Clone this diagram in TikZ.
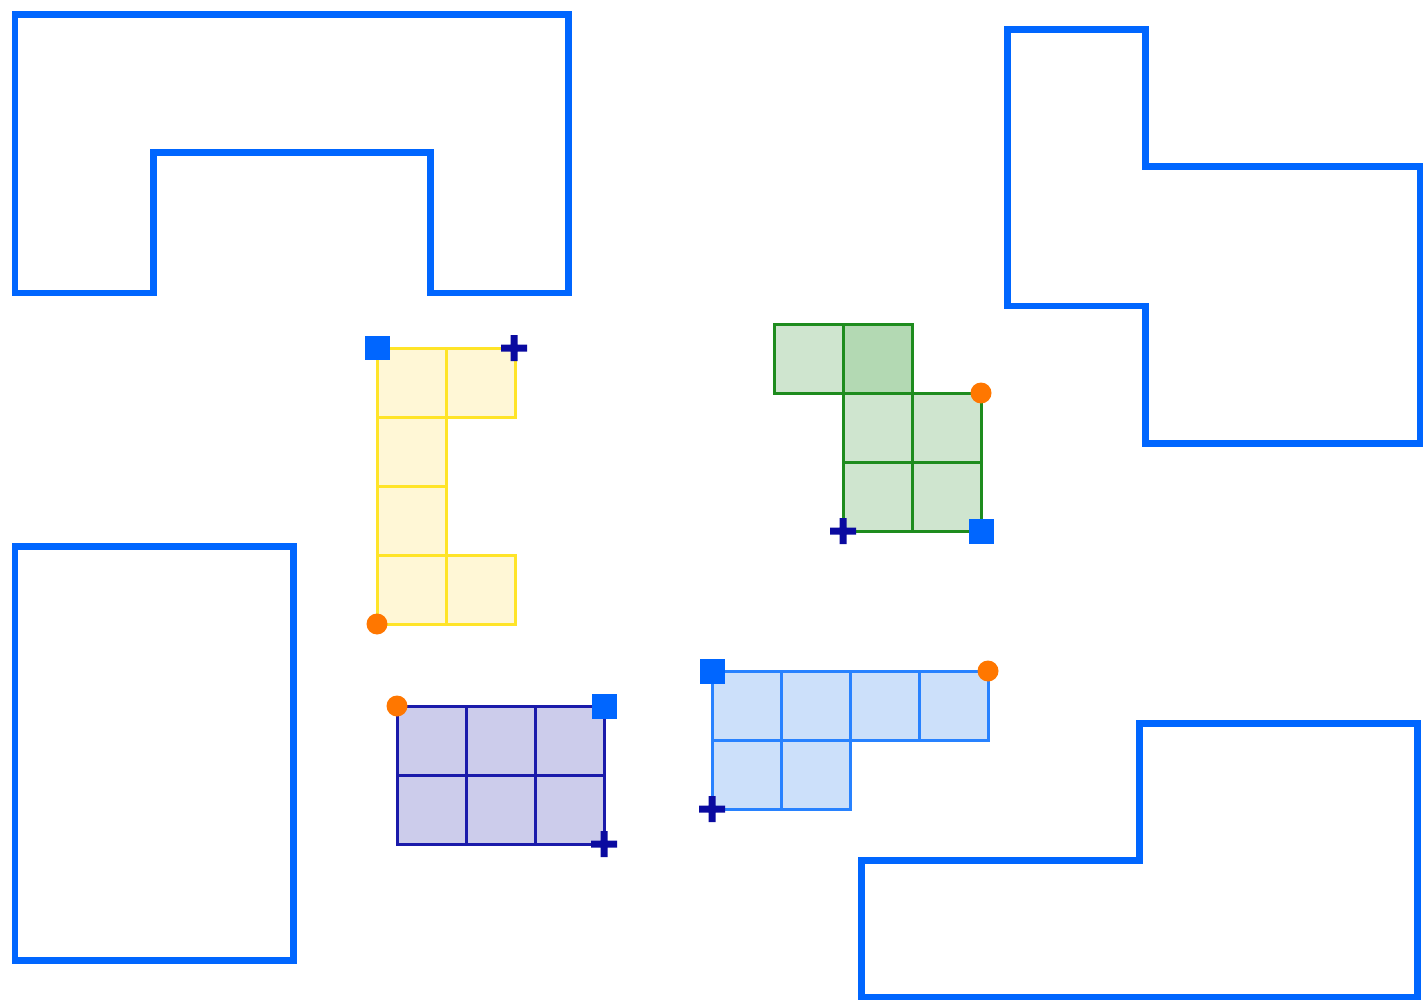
\documentclass[tikz,border=0pt]{standalone}
\usepackage{tikz}
\usetikzlibrary{positioning}

\definecolor{frameblue}{RGB}{0,102,255}
\definecolor{marknavy}{RGB}{10,10,160}
\definecolor{markorange}{RGB}{255,119,0}
\definecolor{yelline}{RGB}{255,228,40}
\definecolor{yelfill}{RGB}{255,247,214}
\definecolor{grnline}{RGB}{30,140,30}
\definecolor{grnfill}{RGB}{207,229,207}
\definecolor{grndark}{RGB}{179,217,179}
\definecolor{purline}{RGB}{26,26,170}
\definecolor{purfill}{RGB}{204,204,235}
\definecolor{bluline}{RGB}{40,130,255}
\definecolor{blufill}{RGB}{204,224,250}

\begin{document}
\begin{tikzpicture}[
  x=0.02cm, y=-0.02cm,
  frame/.style={draw=frameblue, line width=0.14cm, line join=miter},
  yelcell/.style={draw=yelline, fill=yelfill, line width=0.06cm},
  grncell/.style={draw=grnline, fill=grnfill, line width=0.06cm},
  purcell/.style={draw=purline, fill=purfill, line width=0.06cm},
  blucell/.style={draw=bluline, fill=blufill, line width=0.06cm},
  sqmark/.style={rectangle, fill=frameblue, minimum size=0.5cm, inner sep=0pt},
  dotmark/.style={circle, fill=markorange, minimum size=0.42cm, inner sep=0pt},
  plusmark/.pic={\fill[marknavy] (-13,-3.5) rectangle (13,3.5) (-3.5,-13) rectangle (3.5,13);}
]
\useasboundingbox (0,0) rectangle (1423,1000);

% Frames
\draw[frame] (15,15) -- (568,15) -- (568,293) -- (430,293) -- (430,153) -- (153,153) -- (153,293) -- (15,293) -- cycle;
\draw[frame] (1007,30) -- (1145,30) -- (1145,167) -- (1420,167) -- (1420,443) -- (1145,443) -- (1145,306) -- (1007,306) -- cycle;
\draw[frame] (15,546) rectangle (293,960);
\draw[frame] (861,860) -- (1139,860) -- (1139,723) -- (1417,723) -- (1417,997) -- (861,997) -- cycle;

% Yellow piece
\foreach \cx/\cy in {377/348, 446/348, 377/417, 377/486, 377/555, 446/555}
  \draw[yelcell] (\cx,\cy) rectangle ++(69,69);
\node[sqmark] (yelSq) at (377,348) {};
\pic (yelPlus) at (514,348) {plusmark};
\node[dotmark] (yelDot) at (377,624) {};

% Green piece
\foreach \cx/\cy in {774/324, 843/393, 912/393, 843/462, 912/462}
  \draw[grncell] (\cx,\cy) rectangle ++(69,69);
\draw[grncell, fill=grndark] (843,324) rectangle ++(69,69);
\node[dotmark] (grnDot) at (981,393) {};
\pic (grnPlus) at (843,531) {plusmark};
\node[sqmark] (grnSq) at (981,531) {};

% Purple piece
\foreach \cx in {397, 466, 535}
  \foreach \cy in {706, 775}
    \draw[purcell] (\cx,\cy) rectangle ++(69,69);
\node[dotmark] (purDot) at (397,706) {};
\node[sqmark] (purSq) at (604,706) {};
\pic (purPlus) at (604,844) {plusmark};

% Blue piece
\foreach \cx/\cy in {712/671, 781/671, 850/671, 919/671, 712/740, 781/740}
  \draw[blucell] (\cx,\cy) rectangle ++(69,69);
\node[sqmark] (bluSq) at (712,671) {};
\node[dotmark] (bluDot) at (988,671) {};
\pic (bluPlus) at (712,809) {plusmark};
\end{tikzpicture}
\end{document}
